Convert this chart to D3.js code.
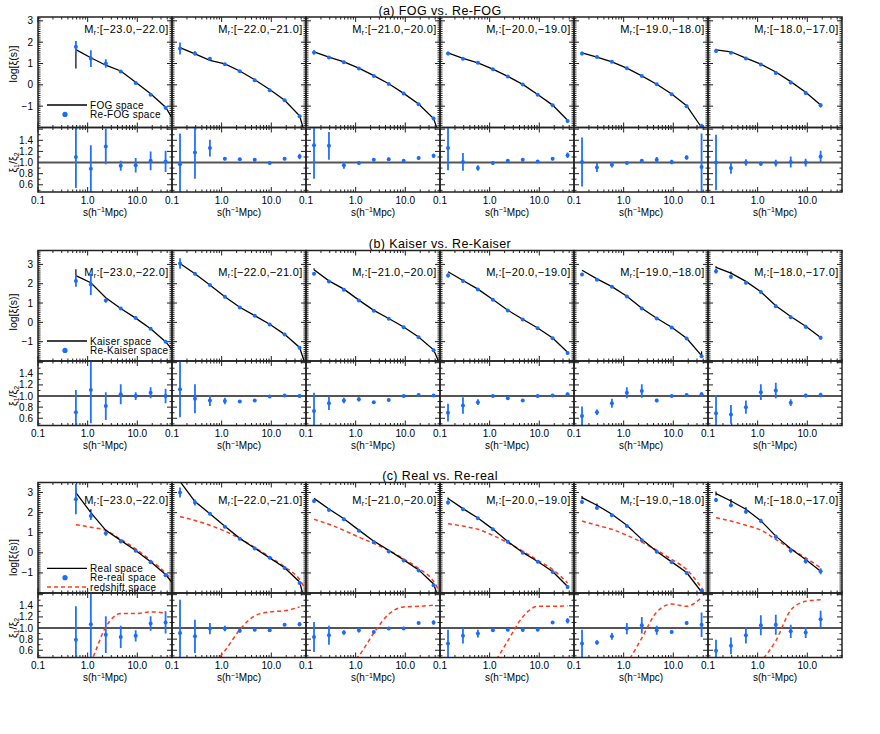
<!DOCTYPE html>
<html lang="en">
<head>
<meta charset="UTF-8">
<title>xi(s) comparisons</title>
<script src="https://cdn.jsdelivr.net/npm/d3@7"></script>
<style>
  body { margin: 0; background: #fff; }
  svg text { font-family: "Liberation Sans", Arial, sans-serif; fill: #000; }
  .frame { fill: none; stroke: #222; stroke-width: 1.5px; }
  .tick { stroke: #222; stroke-width: 1px; }
  .unity { stroke: #555; stroke-width: 2px; }
  .model { fill: none; stroke: #000; stroke-width: 1.3px; }
  .merr { stroke: #000; stroke-width: 1.2px; }
  .redz { fill: none; stroke: #ff3a1a; stroke-width: 1.5px; stroke-dasharray: 4,3; }
  .pt { fill: #1a6cff; }
  .err { stroke: #1f72ff; stroke-width: 1.8px; }
</style>
</head>
<body>
<script>
// separations s (h^-1 Mpc), last one only used to extend the model line
const sVals = [0.145, 0.29, 0.58, 1.16, 2.32, 4.64, 9.28, 18.56, 37.12, 74.24];
const magBins = ["[−23.0,−22.0]", "[−22.0,−21.0]", "[−21.0,−20.0]", "[−20.0,−19.0]", "[−19.0,−18.0]", "[−18.0,−17.0]"];
const titles = ["(a) FOG vs. Re-FOG", "(b) Kaiser vs. Re-Kaiser", "(c) Real vs. Re-real"];
const legendA = ["FOG space", "Re-FOG space"];
const legendB = ["Kaiser space", "Re-Kaiser space"];
const legendC = ["Real space", "Re-real space", "redshift space"];
const upperDomains = [[-2.0, 3.18], [-2.0, 3.72], [-2.0, 3.5]];
const ratioDomain = [0.47, 1.63];
const xTickLabels = ["0.1", "1.0", "10.0"];
const upperTickLabels = [-1, 0, 1, 2, 3];
const ratioTickLabels = [0.6, 0.8, 1.0, 1.2, 1.4];

// ---- (a) FOG vs Re-FOG ----
const lineA = [
  [null, null, 1.65, 1.27, 0.92, 0.65, 0.12, -0.42, -1.05, -2.2],
  [1.74, 1.45, 1.15, 0.98, 0.65, 0.24, -0.22, -0.72, -1.45, -3.8],
  [1.55, 1.30, 1.08, 0.78, 0.43, 0.05, -0.40, -0.90, -1.58, -3.6],
  [1.50, 1.24, 1.03, 0.74, 0.40, 0.02, -0.45, -0.95, -1.66, null],
  [1.50, 1.30, 1.08, 0.78, 0.42, 0.03, -0.43, -0.98, -2.0, -3.0],
  [1.64, 1.55, 1.25, 0.97, 0.60, 0.15, -0.35, -0.95, null, null]
];
const ptsA = [
  [null, null, 1.78, 1.23, 1.00, 0.62, 0.09, -0.46, -1.08],
  [1.70, 1.47, 1.22, 0.97, 0.64, 0.22, -0.25, -0.72, -1.47],
  [1.52, 1.28, 1.06, 0.77, 0.42, 0.04, -0.41, -0.91, -1.58],
  [1.47, 1.22, 1.03, 0.73, 0.39, 0.01, -0.46, -0.96, -1.69],
  [1.47, 1.31, 1.08, 0.78, 0.42, 0.03, -0.44, -1.00, -1.94],
  [1.59, 1.50, 1.23, 0.95, 0.56, 0.11, -0.38, -0.96, null]
];
const errA = [
  [0, 0, 0.27, 0.39, 0.2, 0.05, 0.05, 0.05, 0.08],
  [0.28, 0.1, 0.05, 0.04, 0.04, 0.04, 0.04, 0.05, 0.06],
  [0.1, 0.07, 0.04, 0.04, 0.04, 0.04, 0.04, 0.05, 0.08],
  [0.08, 0.05, 0.04, 0.04, 0.04, 0.04, 0.04, 0.05, 0.08],
  [0.08, 0.05, 0.04, 0.04, 0.04, 0.04, 0.04, 0.08, 0.12],
  [0.07, 0.06, 0.06, 0.07, 0.07, 0.08, 0.08, 0.1, 0]
];
const ratioA = [
  [null, null, 1.10, 0.89, 1.29, 0.94, 0.95, 1.03, 1.02],
  [0.97, 1.18, 1.26, 1.07, 1.06, 1.05, 0.99, 1.07, 1.11],
  [1.31, 1.30, 0.95, 0.99, 1.05, 1.06, 1.03, 1.08, 1.12],
  [1.26, 1.01, 0.90, 0.99, 1.03, 1.05, 1.02, 1.07, 1.13],
  [1.01, 0.91, 0.96, 0.99, 1.03, 1.05, 1.01, 1.09, 0.92],
  [1.00, 0.90, 1.00, 0.98, 0.99, 1.01, 1.00, 1.11, null]
];
const ratioErrA = [
  [0, 0, 0.56, 0.42, 0.32, 0.09, 0.13, 0.17, 0.19],
  [0.55, 0.47, 0.15, 0.03, 0.02, 0.03, 0.02, 0.03, 0.05],
  [0.6, 0.25, 0.06, 0.03, 0.03, 0.03, 0.02, 0.03, 0.04],
  [0.4, 0.16, 0.05, 0.03, 0.03, 0.03, 0.02, 0.03, 0.05],
  [0.44, 0.08, 0.05, 0.02, 0.03, 0.05, 0.04, 0.04, 0.6],
  [0.5, 0.1, 0.06, 0.04, 0.06, 0.1, 0.07, 0.1, 0]
];
// [panel, bin, lower, upper] error bars on the model line
const lineErrA = [[0, 2, 0.88, 0.05], [5, 0, 0.05, 0.05]];

// ---- (b) Kaiser vs Re-Kaiser ----
const lineB = [
  [null, null, 2.42, 2.05, 1.27, 0.72, 0.22, -0.33, -1.0, -1.95],
  [3.05, 2.52, 1.93, 1.33, 0.78, 0.35, -0.10, -0.62, -1.30, -3.6],
  [2.72, 2.15, 1.72, 1.15, 0.62, 0.20, -0.24, -0.76, -1.42, -3.2],
  [2.62, 2.17, 1.72, 1.18, 0.63, 0.16, -0.29, -0.81, -1.55, null],
  [2.70, 2.25, 1.85, 1.35, 0.73, 0.21, -0.25, -0.82, -1.72, null],
  [2.85, 2.55, 2.12, 1.58, 0.86, 0.30, -0.20, -0.78, null, null]
];
const ptsB = [
  [null, null, 2.14, 1.96, 1.13, 0.72, 0.22, -0.33, -1.00],
  [3.05, 2.52, 1.93, 1.33, 0.77, 0.34, -0.11, -0.63, -1.32],
  [2.52, 2.12, 1.69, 1.13, 0.60, 0.19, -0.25, -0.77, -1.44],
  [2.43, 2.14, 1.70, 1.17, 0.62, 0.15, -0.30, -0.82, -1.58],
  [2.48, 2.21, 1.84, 1.34, 0.72, 0.20, -0.26, -0.83, -1.75],
  [2.65, 2.36, 2.05, 1.57, 0.84, 0.27, -0.23, -0.80, null]
];
const errB = [
  [0, 0, 0.3, 0.55, 0.1, 0.05, 0.04, 0.05, 0.06],
  [0.27, 0.08, 0.05, 0.04, 0.04, 0.04, 0.04, 0.04, 0.05],
  [0.08, 0.05, 0.04, 0.04, 0.04, 0.04, 0.04, 0.04, 0.06],
  [0.1, 0.05, 0.04, 0.04, 0.04, 0.04, 0.04, 0.04, 0.08],
  [0.08, 0.05, 0.05, 0.04, 0.04, 0.04, 0.04, 0.06, 0.05],
  [0.12, 0.1, 0.08, 0.08, 0.08, 0.08, 0.1, 0.1, 0]
];
const ratioB = [
  [null, null, 0.71, 1.11, 0.82, 1.03, 1.00, 1.06, 1.00],
  [1.12, 0.95, 0.92, 0.91, 0.90, 0.92, 0.99, 1.01, 1.00],
  [0.73, 0.87, 0.92, 0.94, 0.89, 0.93, 1.00, 1.02, 1.01],
  [0.70, 0.83, 0.89, 1.00, 0.96, 0.92, 1.00, 1.01, 1.03],
  [0.64, 0.71, 0.87, 1.06, 1.09, 0.92, 1.00, 1.02, 1.03],
  [0.69, 0.67, 0.80, 1.07, 1.10, 0.88, 1.01, 1.02, null]
];
const ratioErrB = [
  [0, 0, 0.4, 0.6, 0.25, 0.18, 0.07, 0.1, 0.13],
  [0.5, 0.26, 0.1, 0.06, 0.02, 0.02, 0.02, 0.02, 0.03],
  [0.33, 0.12, 0.05, 0.04, 0.02, 0.02, 0.02, 0.02, 0.02],
  [0.16, 0.15, 0.05, 0.02, 0.03, 0.02, 0.02, 0.02, 0.03],
  [0.17, 0.05, 0.08, 0.1, 0.12, 0.03, 0.02, 0.02, 0.04],
  [0.33, 0.17, 0.12, 0.14, 0.14, 0.06, 0.03, 0.04, 0]
];
const lineErrB = [[0, 2, 0, 0.33], [2, 0, 0, 0.08], [4, 8, 0, 0.22], [5, 0, 0.05, 0.06], [5, 1, 0.06, 0.08]];

// ---- (c) Real vs Re-real ----
const lineC = [
  [null, null, 3.0, 2.0, 1.12, 0.62, 0.12, -0.45, -1.08, -2.0],
  [3.55, 2.55, 1.95, 1.32, 0.72, 0.23, -0.25, -0.74, -1.45, -4.2],
  [2.71, 2.18, 1.70, 1.13, 0.58, 0.13, -0.35, -0.85, -1.55, -3.7],
  [2.70, 2.20, 1.73, 1.18, 0.56, 0.02, -0.43, -0.93, -1.68, null],
  [2.75, 2.37, 1.92, 1.37, 0.67, 0.07, -0.45, -0.98, -1.95, -3.0],
  [2.95, 2.58, 2.17, 1.60, 0.83, 0.20, -0.33, -0.92, null, null]
];
const ptsC = [
  [null, null, 2.67, 1.83, 0.97, 0.57, 0.10, -0.47, -1.12],
  [3.00, 2.50, 1.95, 1.30, 0.70, 0.22, -0.25, -0.75, -1.50],
  [2.58, 2.13, 1.67, 1.10, 0.52, 0.07, -0.38, -0.88, -1.62],
  [2.50, 2.17, 1.72, 1.17, 0.55, 0.00, -0.45, -0.95, -1.70],
  [2.53, 2.23, 1.87, 1.33, 0.63, 0.05, -0.47, -1.00, -1.88],
  [2.63, 2.37, 2.05, 1.58, 0.80, 0.12, -0.42, -0.92, null]
];
const errC = [
  [0, 0, 0.75, 0.2, 0.12, 0.1, 0.05, 0.05, 0.06],
  [0.25, 0.15, 0.05, 0.04, 0.04, 0.04, 0.04, 0.04, 0.06],
  [0.08, 0.05, 0.04, 0.04, 0.04, 0.04, 0.04, 0.04, 0.06],
  [0.1, 0.05, 0.04, 0.04, 0.04, 0.04, 0.04, 0.04, 0.08],
  [0.08, 0.05, 0.05, 0.05, 0.05, 0.04, 0.04, 0.05, 0.08],
  [0.1, 0.1, 0.1, 0.1, 0.1, 0.12, 0.12, 0.15, 0]
];
const redC = [
  [null, null, 1.40, 1.27, 1.12, 0.67, 0.20, -0.38, -1.00, -1.9],
  [1.80, 1.61, 1.37, 1.08, 0.71, 0.27, -0.20, -0.70, -1.33, -2.8],
  [1.67, 1.42, 1.12, 0.78, 0.47, 0.12, -0.30, -0.78, -1.42, -3.0],
  [1.45, 1.33, 1.17, 0.87, 0.50, 0.08, -0.37, -0.83, -1.50, null],
  [1.58, 1.37, 1.17, 0.87, 0.53, 0.13, -0.33, -0.83, -1.75, -3.0],
  [1.75, 1.58, 1.37, 1.13, 0.67, 0.20, -0.25, -0.75, null, null]
];
const ratioC = [
  [null, null, 0.79, 1.07, 0.88, 0.84, 0.86, 1.08, 1.10],
  [0.91, 0.85, 0.99, 0.99, 0.95, 0.97, 0.96, 1.06, 1.07],
  [0.84, 0.87, 0.92, 0.96, 0.93, 0.99, 0.99, 1.09, 1.10],
  [0.72, 0.86, 0.90, 0.96, 0.97, 0.97, 0.97, 1.10, 1.13],
  [0.72, 0.74, 0.85, 0.99, 1.05, 0.96, 0.93, 1.09, 1.06],
  [0.59, 0.68, 0.87, 1.05, 1.06, 0.94, 0.92, 1.16, null]
];
const ratioErrC = [
  [0, 0, 0.6, 0.6, 0.33, 0.2, 0.1, 0.13, 0.2],
  [0.6, 0.3, 0.1, 0.05, 0.03, 0.03, 0.03, 0.02, 0.04],
  [0.27, 0.17, 0.04, 0.04, 0.02, 0.02, 0.02, 0.02, 0.04],
  [0.25, 0.14, 0.07, 0.03, 0.03, 0.04, 0.02, 0.02, 0.05],
  [0.25, 0.04, 0.06, 0.1, 0.15, 0.08, 0.03, 0.03, 0.22],
  [0.2, 0.15, 0.15, 0.18, 0.18, 0.12, 0.1, 0.15, 0]
];
const redRatioC = [
  [null, null, 0.10, 0.40, 1.02, 1.26, 1.26, 1.29, 1.27],
  [0.00, 0.10, 0.30, 0.59, 0.97, 1.22, 1.29, 1.31, 1.38],
  [0.00, 0.10, 0.25, 0.50, 0.91, 1.25, 1.38, 1.39, 1.41],
  [0.00, 0.05, 0.15, 0.35, 0.77, 1.20, 1.39, 1.39, 1.40],
  [0.00, 0.05, 0.15, 0.38, 0.82, 1.29, 1.43, 1.39, 1.55],
  [0.00, 0.05, 0.15, 0.40, 0.77, 1.32, 1.48, 1.51, null]
];
const lineErrC = [[0, 2, 0, 0.22], [0, 3, 0.17, 0.17], [3, 0, 0.05, 0.05], [4, 0, 0.08, 0.08], [4, 1, 0.08, 0.08],
                  [5, 0, 0.1, 0.1], [5, 1, 0.1, 0.1], [5, 2, 0.1, 0.1], [5, 3, 0.1, 0.1]];

// ---------------- layout ----------------
let width = 880, height = 734;
let left = 38, pw = 134, upH = 110.5, loH = 64.5;
let groupTop = [17, 250.5, 482.5];
let legendTop = [88, 90.5, 85.8];
let ylabelMid = [47, 61.5, 75];

let groups = [
  {title: titles[0], dom: upperDomains[0], line: lineA, pts: ptsA, err: errA, ratio: ratioA, rerr: ratioErrA, lerr: lineErrA, legend: legendA},
  {title: titles[1], dom: upperDomains[1], line: lineB, pts: ptsB, err: errB, ratio: ratioB, rerr: ratioErrB, lerr: lineErrB, legend: legendB},
  {title: titles[2], dom: upperDomains[2], line: lineC, pts: ptsC, err: errC, ratio: ratioC, rerr: ratioErrC, lerr: lineErrC, legend: legendC,
   red: redC, redRatio: redRatioC}
];

let svg = d3.select('body').append('svg')
            .attr('width', width)
            .attr('height', height);

let defs = svg.append('defs');
defs.append('clipPath').attr('id', 'clipUp')
    .append('rect').attr('x', 0).attr('y', 0).attr('width', pw).attr('height', upH);
defs.append('clipPath').attr('id', 'clipLo')
    .append('rect').attr('x', 0).attr('y', 0).attr('width', pw).attr('height', loH);

let x = d3.scaleLog().domain([0.1, 50]).range([0, pw]);
let yLo = d3.scaleLinear().domain(ratioDomain).range([loH, 0]);

let xMajor = [0.1, 1, 10];
let xMinor = [];
[0.1, 1, 10].forEach(function(d) {
  d3.range(2, 10).forEach(function(m) { if (d * m <= 50) xMinor.push(d * m); });
});

// inward ticks on all four sides of a box
function drawTicks(g, y, h, yMaj, yMin) {
  let t = g.append('g').attr('class', 'ticks');
  function seg(x1, y1, x2, y2) {
    t.append('line').attr('class', 'tick')
     .attr('x1', x1).attr('y1', y1).attr('x2', x2).attr('y2', y2);
  }
  xMajor.forEach(function(v) { let p = x(v); seg(p, 0, p, 5); seg(p, h, p, h - 5); });
  xMinor.forEach(function(v) { let p = x(v); seg(p, 0, p, 2.5); seg(p, h, p, h - 2.5); });
  yMaj.forEach(function(v) { let p = y(v); seg(0, p, 5, p); seg(pw, p, pw - 5, p); });
  yMin.forEach(function(v) { let p = y(v); seg(0, p, 2.5, p); seg(pw, p, pw - 2.5, p); });
}

function errBars(g, vals, errs, y, cls) {
  vals.forEach(function(v, i) {
    if (v == null || !errs[i]) return;
    g.append('line').attr('class', cls)
     .attr('x1', x(sVals[i])).attr('x2', x(sVals[i]))
     .attr('y1', y(v - errs[i])).attr('y2', y(v + errs[i]));
  });
}

function dots(g, vals, y) {
  g.selectAll(null)
   .data(vals.map(function(v, i) { return {v: v, s: sVals[i]}; }).filter(function(d) { return d.v != null; }))
   .enter().append('circle')
   .attr('class', 'pt')
   .attr('cx', function(d) { return x(d.s); })
   .attr('cy', function(d) { return y(d.v); })
   .attr('r', 2);
}

groups.forEach(function(G, gi) {
  let top = groupTop[gi];
  let yUp = d3.scaleLinear().domain(G.dom).range([upH, 0]);

  let upMaj = d3.range(-2, 4).filter(function(v) { return v >= G.dom[0] && v <= G.dom[1]; });
  let upMin = d3.range(-20, 38).map(function(v) { return v / 10; })
                .filter(function(v) { return v >= G.dom[0] && v <= G.dom[1]; });
  let loMaj = [0.6, 0.8, 1.0, 1.2, 1.4, 1.6];
  let loMin = [0.5, 0.7, 0.9, 1.1, 1.3, 1.5];

  let lineUp = d3.line().defined(function(d) { return d != null; })
                 .x(function(d, i) { return x(sVals[i]); })
                 .y(function(d) { return yUp(d); });
  let smoothUp = d3.line().defined(function(d) { return d != null; })
                 .curve(d3.curveMonotoneX)
                 .x(function(d, i) { return x(sVals[i]); })
                 .y(function(d) { return yUp(d); });
  let smoothLo = d3.line().defined(function(d) { return d != null; })
                 .curve(d3.curveMonotoneX)
                 .x(function(d, i) { return x(sVals[i]); })
                 .y(function(d) { return yLo(d); });

  svg.append('text')
     .attr('x', left + 3 * pw).attr('y', top - 2.5)
     .attr('text-anchor', 'middle')
     .style('font-size', '12.5px')
     .style('letter-spacing', '0.4px')
     .text(G.title);

  for (let p = 0; p < 6; p++) {
    let gp = svg.append('g').attr('transform', 'translate(' + (left + p * pw) + ',' + top + ')');

    // ---- upper panel ----
    let gu = gp.append('g');
    drawTicks(gu, yUp, upH, upMaj, upMin);
    let cu = gu.append('g').attr('clip-path', 'url(#clipUp)');
    if (G.red) cu.append('path').attr('class', 'redz').attr('d', smoothUp(G.red[p]));
    cu.append('path').attr('class', 'model').attr('d', lineUp(G.line[p]));
    G.lerr.filter(function(e) { return e[0] === p; }).forEach(function(e) {
      let v = G.line[p][e[1]];
      cu.append('line').attr('class', 'merr')
        .attr('x1', x(sVals[e[1]])).attr('x2', x(sVals[e[1]]))
        .attr('y1', yUp(v - e[2])).attr('y2', yUp(v + e[3]));
    });
    errBars(cu, G.pts[p], G.err[p], yUp, 'err');
    dots(cu, G.pts[p], yUp);
    gu.append('rect').attr('class', 'frame').attr('width', pw).attr('height', upH);

    let lab = gu.append('text')
      .attr('x', pw - 3.5).attr('y', yUp(2.6))
      .attr('dy', '0.35em')
      .attr('text-anchor', 'end')
      .style('font-size', '11px')
      .style('letter-spacing', '0.3px');
    lab.append('tspan').text('M');
    lab.append('tspan').attr('dy', '2').style('font-size', '7px').text('r');
    lab.append('tspan').attr('dy', '-2').text(':' + magBins[p]);

    // ---- lower (ratio) panel ----
    let gl = gp.append('g').attr('transform', 'translate(0,' + upH + ')');
    drawTicks(gl, yLo, loH, loMaj, loMin);
    gl.append('line').attr('class', 'unity')
      .attr('x1', 0).attr('x2', pw).attr('y1', yLo(1)).attr('y2', yLo(1));
    let cl = gl.append('g').attr('clip-path', 'url(#clipLo)');
    if (G.redRatio) cl.append('path').attr('class', 'redz').attr('d', smoothLo(G.redRatio[p]));
    errBars(cl, G.ratio[p], G.rerr[p], yLo, 'err');
    dots(cl, G.ratio[p], yLo);
    gl.append('rect').attr('class', 'frame').attr('width', pw).attr('height', loH);

    // x tick labels and title
    xMajor.forEach(function(v, i) {
      gl.append('text')
        .attr('x', x(v)).attr('y', loH + 11.5)
        .attr('text-anchor', 'middle')
        .style('font-size', '10px')
        .text(xTickLabels[i]);
    });
    let xl = gl.append('text')
      .attr('x', pw / 2).attr('y', loH + 23.5)
      .attr('text-anchor', 'middle')
      .style('font-size', '10px');
    xl.append('tspan').text('s(h');
    xl.append('tspan').attr('dy', '-3.5').style('font-size', '7px').text('−1');
    xl.append('tspan').attr('dy', '3.5').text('Mpc)');

    if (p === 0) {
      upperTickLabels.forEach(function(v) {
        gu.append('text')
          .attr('x', -5).attr('y', yUp(v)).attr('dy', '0.35em')
          .attr('text-anchor', 'end')
          .style('font-size', '10px')
          .text(v < 0 ? '−' + Math.abs(v) : String(v));
      });
      ratioTickLabels.forEach(function(v) {
        gl.append('text')
          .attr('x', -5).attr('y', yLo(v)).attr('dy', '0.35em')
          .attr('text-anchor', 'end')
          .style('font-size', '10px')
          .text(d3.format('.1f')(v));
      });
      gu.append('text')
        .attr('transform', 'translate(-21,' + ylabelMid[gi] + ') rotate(-90)')
        .attr('text-anchor', 'middle')
        .style('font-size', '10.5px')
        .text('log[ξ(s)]');
      let yl = gl.append('text')
        .attr('transform', 'translate(-21,' + yLo(1) + ') rotate(-90)')
        .attr('text-anchor', 'middle')
        .style('font-size', '10.5px');
      yl.append('tspan').text('ξ');
      yl.append('tspan').attr('dy', '2').style('font-size', '7px').text('1');
      yl.append('tspan').attr('dy', '-2').text('/ξ');
      yl.append('tspan').attr('dy', '2').style('font-size', '7px').text('2');

      // legend
      let ly = legendTop[gi];
      G.legend.forEach(function(name, i) {
        let yy = ly + i * 9.4;
        if (i === 0) {
          gu.append('line').attr('class', 'model').attr('x1', 9).attr('x2', 49).attr('y1', yy).attr('y2', yy);
        } else if (i === 1) {
          gu.append('circle').attr('class', 'pt').attr('cx', 27).attr('cy', yy).attr('r', 2.6);
        } else {
          gu.append('line').attr('class', 'redz').attr('x1', 9).attr('x2', 49).attr('y1', yy).attr('y2', yy);
        }
        gu.append('text')
          .attr('x', 52).attr('y', yy).attr('dy', '0.35em')
          .style('font-size', '10px')
          .style('letter-spacing', '0.3px')
          .text(name);
      });
    }
  }
});
</script>
</body>
</html>
